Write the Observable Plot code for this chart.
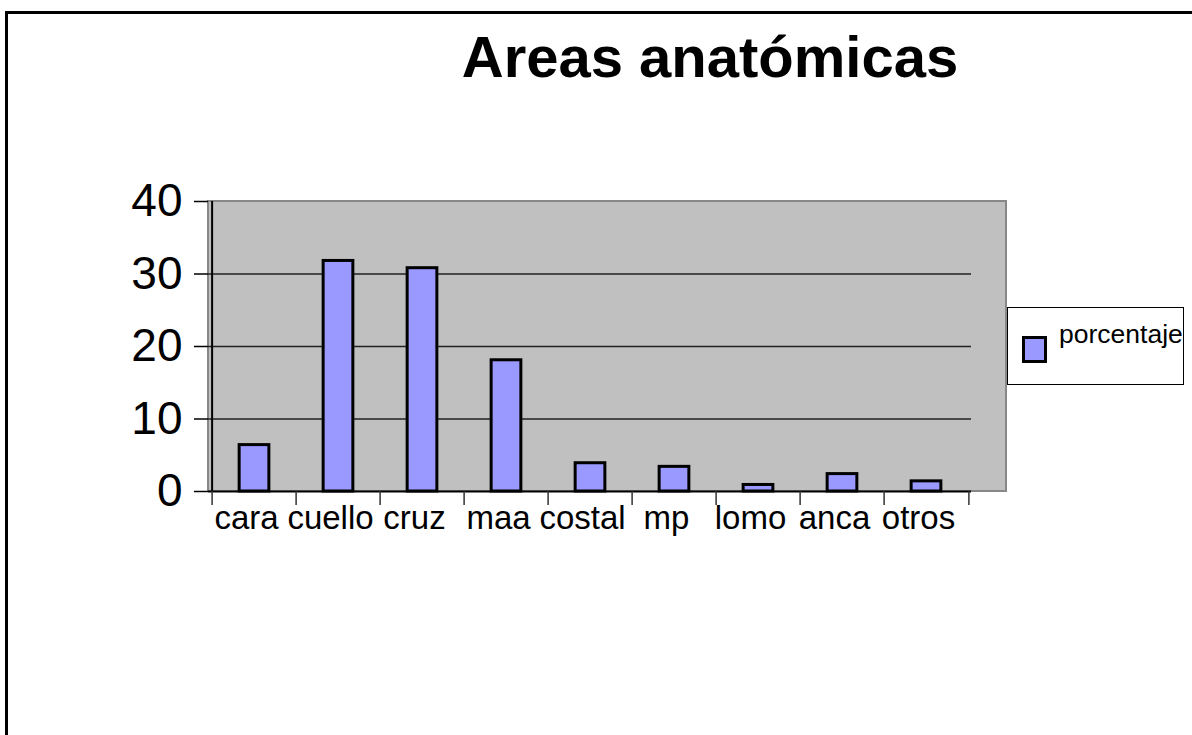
<!DOCTYPE html>
<html><head><meta charset="utf-8">
<script src="https://cdn.jsdelivr.net/npm/d3@7"></script>
<script src="https://cdn.jsdelivr.net/npm/@observablehq/plot@0.6"></script>
<style>
html,body{margin:0;padding:0;background:#fff;overflow:hidden;width:1192px;height:735px;}
#page{position:relative;width:1192px;height:735px;overflow:hidden;font-family:'Liberation Sans',Arial,sans-serif;color:#000;}
#ftop{position:absolute;left:5px;top:11px;width:1187px;height:3px;background:#000;}
#fleft{position:absolute;left:5px;top:11px;width:3px;height:724px;background:#000;}
#title{position:absolute;left:710px;top:28px;transform:translateX(-50%);white-space:nowrap;font-weight:bold;font-size:58px;line-height:1;}
#bg{position:absolute;box-sizing:border-box;left:207px;top:200px;width:800px;height:292px;background:#c0c0c0;border:2.5px solid #888;}
#chart{position:absolute;left:0;top:120px;width:1192px;overflow:hidden;}
#legend{position:absolute;box-sizing:border-box;left:1007px;top:307px;width:177px;height:78px;border:1.5px solid #000;background:#fff;}
#legend .sw{position:absolute;box-sizing:border-box;left:13.5px;top:27.5px;width:25px;height:27px;border:3px solid #000;background:#9999ff;}
#legend .lab{position:absolute;left:51px;top:13px;font-size:26.5px;line-height:1;white-space:nowrap;}
</style>
</head><body>
<div id="page">
  <div id="ftop"></div>
  <div id="fleft"></div>
  <div id="title"></div>
  <div id="bg"></div>
  <div id="chart"></div>
  <div id="legend"><div class="sw"></div><div class="lab"></div></div>
</div>
<script>
const title = "Areas anatómicas";
const categories = ["cara", "cuello", "cruz", "maa", "costal", "mp", "lomo", "anca", "otros"];
const porcentaje = [6.4, 31.8, 30.8, 18.1, 3.9, 3.4, 0.9, 2.4, 1.4];
const seriesName = "porcentaje";
const yTicks = [0, 10, 20, 30, 40];
const gridTicks = [10, 20, 30];

document.getElementById("title").textContent = title;
document.querySelector("#legend .lab").textContent = seriesName;

const data = categories.map((c, i) => ({cat: c, value: porcentaje[i]}));

const W = 1192, H = 615, mL = 208, mR = 221, mT = 81, mB = 244;
const step = (W - mL - mR) / categories.length;
const innerH = H - mT - mB;
const barInset = (step - 30.5) / 2;

const chart = Plot.plot({
  width: W, height: H,
  marginLeft: mL, marginRight: mR, marginTop: mT, marginBottom: mB,
  style: {background: "transparent", overflow: "visible", fontFamily: "'Liberation Sans', Arial, sans-serif", color: "#000"},
  x: {type: "band", domain: categories, padding: 0},
  y: {domain: [0, 40]},
  marks: [
    Plot.ruleY(gridTicks, {stroke: "#222", strokeWidth: 1.5}),
    Plot.barY(data, {x: "cat", y: "value", fill: "#9999ff", stroke: "#000", strokeWidth: 3, insetLeft: barInset, insetRight: barInset}),
    Plot.ruleY([0], {stroke: "#000", strokeWidth: 2}),
    Plot.ruleX([categories[0]], {dx: -step / 2, stroke: "#000", strokeWidth: 2}),
    Plot.ruleX(categories, {dx: -step / 2, stroke: "#333", strokeWidth: 1.5, insetTop: innerH, insetBottom: -14}),
    Plot.ruleX([categories[categories.length - 1]], {dx: step / 2, stroke: "#333", strokeWidth: 1.5, insetTop: innerH, insetBottom: -14}),
    Plot.axisY({ticks: yTicks, tickSize: 14, tickPadding: 12, fontSize: 46, label: null, stroke: "#000", strokeWidth: 1.5}),
    Plot.axisX({tickSize: 0, tickPadding: 14, fontSize: 33, label: null, dx: -8})
  ]
});
document.getElementById("chart").appendChild(chart);
</script>
</body></html>
